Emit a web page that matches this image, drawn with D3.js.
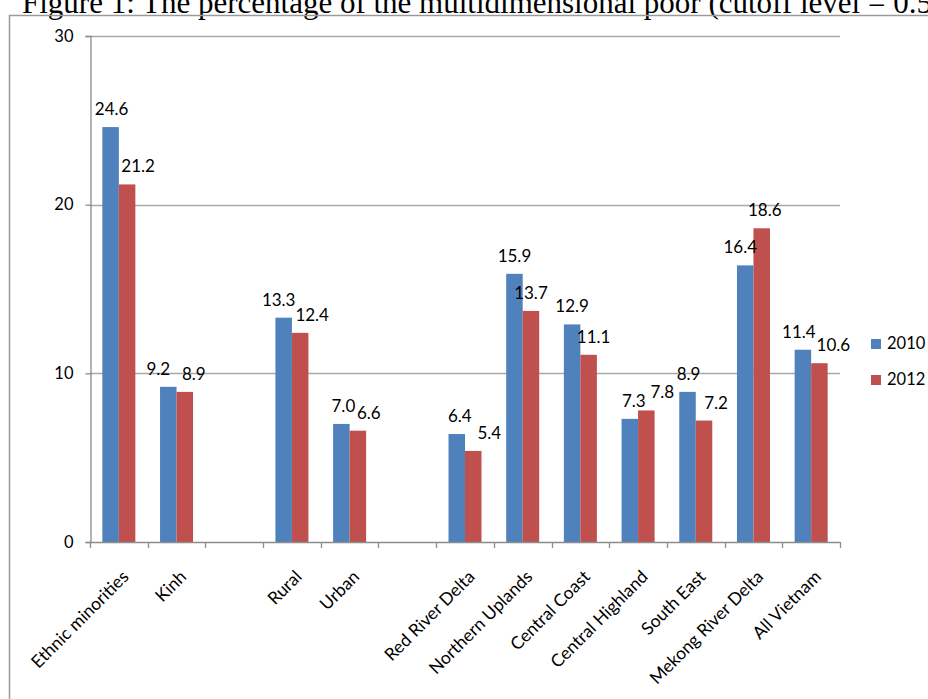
<!DOCTYPE html>
<html>
<head>
<meta charset="utf-8">
<script src="https://cdn.jsdelivr.net/npm/d3@7"></script>
<style>
  html, body { margin: 0; padding: 0; background: #fff; }
  svg { display: block; }
</style>
</head>
<body>
<svg id="chart" width="928" height="699"></svg>
<script>
// Categories in drawing order; empty strings are spacer slots between groups.
const categories = [
  "Ethnic minorities", "Kinh", "",
  "Rural", "Urban", "",
  "Red River Delta", "Northern Uplands", "Central Coast",
  "Central Highland", "South East", "Mekong River Delta", "All Vietnam"
];
const series = ["2010", "2012"];
const values2010 = [24.6, 9.2, null, 13.3, 7.0, null, 6.4, 15.9, 12.9, 7.3, 8.9, 16.4, 11.4];
const values2012 = [21.2, 8.9, null, 12.4, 6.6, null, 5.4, 13.7, 11.1, 7.8, 7.2, 18.6, 10.6];
const yTicks = [0, 10, 20, 30];
const colors = ["#4F81BD", "#C0504D"];
const titleText = "Figure 1: The percentage of the multidimensional poor (cutoff level = 0.5)";

// Horizontal nudges for the value labels so neighbouring labels don't collide
const labelShift2010 = [1, -10, 0, -5, 2, 0, 3, 0, 0, 4, 1, -5, -4];
const labelShift2012 = [11, 9, 0, 12, 11, 0, 16, 0, 5, 16, 12, 3, 14];

const svg = d3.select("#chart");
const font = "Lato, 'Open Sans', sans-serif";

// Title (runs past the right edge of the page)
svg.append("text")
  .attr("x", 22).attr("y", 13)
  .attr("font-family", "'Liberation Serif', 'Times New Roman', serif")
  .attr("font-size", 31)
  .attr("fill", "#000")
  .text(titleText);

// Chart frame
svg.append("rect")
  .attr("x", 9.5).attr("y", 15.5)
  .attr("width", 1000).attr("height", 1000)
  .attr("fill", "none")
  .attr("stroke", "#9a9a9a")
  .attr("stroke-width", 1.5);

const plot = { left: 90, right: 840, top: 36, bottom: 542 };

const x = d3.scaleBand()
  .domain(d3.range(categories.length))
  .range([plot.left, plot.right])
  .padding(0);

const y = d3.scaleLinear()
  .domain([0, 30])
  .range([plot.bottom, plot.top]);

const barW = 16.5;
const xSub = d3.scaleBand().domain(series).range([-barW, barW]).padding(0);

// Gridlines
svg.append("g")
  .selectAll("line")
  .data(yTicks.filter(d => d > 0))
  .join("line")
  .attr("x1", plot.left).attr("x2", plot.right)
  .attr("y1", d => Math.round(y(d)) + 0.5)
  .attr("y2", d => Math.round(y(d)) + 0.5)
  .attr("stroke", "#a8a8a8")
  .attr("stroke-width", 1.3);

// Y axis
const yAxis = svg.append("g")
  .attr("transform", `translate(${plot.left + 0.5},0)`)
  .call(d3.axisLeft(y).tickValues(yTicks).tickSize(5).tickPadding(12).tickFormat(d3.format("d")));
yAxis.select(".domain").attr("stroke", "#8c8c8c").attr("stroke-width", 1.3);
yAxis.selectAll(".tick line").attr("stroke", "#8c8c8c").attr("stroke-width", 1.3);
yAxis.selectAll(".tick text")
  .attr("font-family", font).attr("font-size", 16.5).attr("fill", "#000");

// Bars
const shifts = [labelShift2010, labelShift2012];
const rows = categories.map((c, i) => ({ i, c, vals: [values2010[i], values2012[i]] }))
  .filter(r => r.c !== "");

const groups = svg.append("g").selectAll("g")
  .data(rows)
  .join("g")
  .attr("transform", r => `translate(${x(r.i) + x.bandwidth() / 2},0)`);

groups.selectAll("rect")
  .data(r => r.vals.map((v, k) => ({ v, k, i: r.i })))
  .join("rect")
  .attr("x", d => xSub(series[d.k]))
  .attr("width", xSub.bandwidth())
  .attr("y", d => y(d.v))
  .attr("height", d => y(0) - y(d.v))
  .attr("fill", d => colors[d.k]);

// X axis with ticks at category boundaries
const xAxisG = svg.append("g");
xAxisG.append("line")
  .attr("x1", plot.left).attr("x2", plot.right)
  .attr("y1", plot.bottom + 0.5).attr("y2", plot.bottom + 0.5)
  .attr("stroke", "#8c8c8c").attr("stroke-width", 1.3);
xAxisG.selectAll("line.tk")
  .data(d3.range(categories.length + 1))
  .join("line")
  .attr("class", "tk")
  .attr("x1", i => Math.round(plot.left + i * x.step()) + 0.5)
  .attr("x2", i => Math.round(plot.left + i * x.step()) + 0.5)
  .attr("y1", plot.bottom).attr("y2", plot.bottom + 6)
  .attr("stroke", "#8c8c8c").attr("stroke-width", 1.3);

// Rotated category labels
svg.append("g").selectAll("text")
  .data(rows)
  .join("text")
  .attr("transform", r => `translate(${x(r.i) + x.bandwidth() / 2 + 2},569) rotate(-45)`)
  .attr("text-anchor", "end")
  .attr("dy", "0.72em")
  .attr("font-family", font).attr("font-size", 17.5)
  .attr("fill", "#000")
  .text(r => r.c);

// Value labels above each bar
groups.selectAll("text")
  .data(r => r.vals.map((v, k) => ({ v, k, i: r.i })))
  .join("text")
  .attr("x", d => xSub(series[d.k]) + xSub.bandwidth() / 2 + shifts[d.k][d.i])
  .attr("y", d => y(d.v) - 12)
  .attr("text-anchor", "middle")
  .attr("font-family", font).attr("font-size", 17)
  .attr("fill", "#000")
  .text(d => d3.format(".1f")(d.v));

// Legend
const legend = svg.append("g").attr("transform", "translate(871,339)");
series.forEach((s, k) => {
  const g = legend.append("g").attr("transform", `translate(0,${k * 36})`);
  g.append("rect").attr("width", 10).attr("height", 10).attr("fill", colors[k]);
  g.append("text")
    .attr("x", 16).attr("y", 10)
    .attr("font-family", font).attr("font-size", 16.5)
    .attr("fill", "#000")
    .text(s);
});
</script>
</body>
</html>
